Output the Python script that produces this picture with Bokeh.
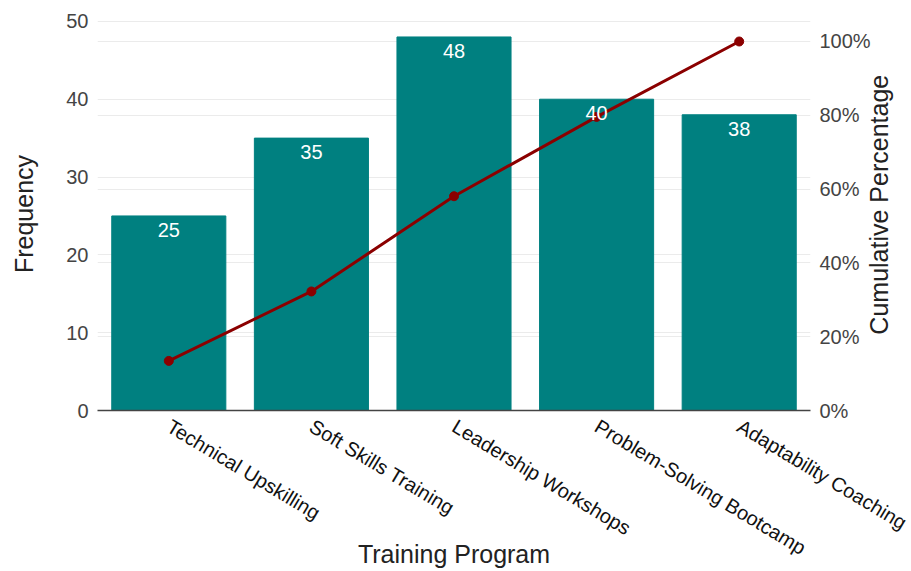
import math
from bokeh.plotting import figure
from bokeh.layouts import row
from bokeh.models import (ColumnDataSource, LinearAxis, Range1d, FixedTicker,
                          PrintfTickFormatter, Grid, LabelSet, Label, FactorRange)
from bokeh.core.properties import value
from bokeh.embed import file_html
from bokeh.resources import INLINE

programs = ["Technical Upskilling", "Soft Skills Training", "Leadership Workshops",
            "Problem-Solving Bootcamp", "Adaptability Coaching"]
frequency = [25, 35, 48, 40, 38]

total = sum(frequency)
cumulative = []
run = 0
for f in frequency:
    run += f
    cumulative.append(run / total * 100)

src = ColumnDataSource(dict(program=programs, freq=frequency, cum=cumulative,
                            lab=[str(v) for v in frequency]))

FONT = "Liberation Sans"
TXT = "#444444"
TTL = "#222222"

p = figure(width=911, height=571, x_range=FactorRange(*programs, range_padding=0),
           y_range=Range1d(0, 50.5), output_backend="svg", toolbar_location=None,
           min_border_left=97, min_border_right=101, min_border_top=17,
           min_border_bottom=160)
p.outline_line_color = None
p.background_fill_color = "white"

p.extra_y_ranges = {"pct": Range1d(0, 106.5)}

p.vbar(x="program", top="freq", width=0.8, source=src, color="#008080")
p.line(x="program", y="cum", source=src, y_range_name="pct",
       line_color="#8B0000", line_width=3)
p.scatter(x="program", y="cum", source=src, y_range_name="pct",
          size=9, fill_color="#8B0000", line_color="#8B0000")

labels = LabelSet(x="program", y="freq", text="lab", source=src,
                  text_align="center", text_baseline="top", y_offset=-7,
                  text_color="white", text_font=value(FONT), text_font_size="20px")
p.add_layout(labels)

# left axis
ya = p.yaxis[0]
ya.ticker = FixedTicker(ticks=[0, 10, 20, 30, 40, 50])
ya.axis_label = "Frequency"
ya.axis_line_color = None
ya.major_tick_line_color = None
ya.minor_tick_line_color = None
ya.major_label_standoff = 3
ya.major_label_text_font = FONT
ya.major_label_text_font_size = "20px"
ya.major_label_text_color = TXT
ya.axis_label_text_font = FONT
ya.axis_label_text_font_size = "25px"
ya.axis_label_text_font_style = "normal"
ya.axis_label_text_color = TTL
ya.axis_label_standoff = 25

p.ygrid.ticker = FixedTicker(ticks=[10, 20, 30, 40, 50])
p.ygrid.grid_line_color = "#ebebeb"
p.xgrid.grid_line_color = None

# right axis
ra = LinearAxis(y_range_name="pct", ticker=FixedTicker(ticks=[0, 20, 40, 60, 80, 100]),
                formatter=PrintfTickFormatter(format="%d%%"))
ra.axis_line_color = None
ra.major_tick_line_color = None
ra.minor_tick_line_color = None
ra.major_label_standoff = 3
ra.major_label_text_font = FONT
ra.major_label_text_font_size = "20px"
ra.major_label_text_color = TXT
p.add_layout(ra, "right")

g2 = Grid(dimension=1, ticker=FixedTicker(ticks=[20, 40, 60, 80, 100]),
          y_range_name="pct", grid_line_color="#ebebeb")
p.add_layout(g2)

# x axis
xa = p.xaxis[0]
xa.axis_label = "Training Program"
xa.axis_line_color = "#444444"
xa.axis_line_width = 1.5
xa.major_tick_line_color = None
xa.major_label_orientation = -math.pi / 5.8
xa.major_label_text_font = FONT
xa.major_label_text_font_size = "20px"
xa.major_label_text_color = "#111111"
xa.major_label_standoff = 8
xa.axis_label_text_font = FONT
xa.axis_label_text_font_size = "25px"
xa.axis_label_text_font_style = "normal"
xa.axis_label_text_color = TTL
xa.axis_label_standoff = -31

# transparent strip overlapping the right edge, holding the right-axis title
p2 = figure(width=49, height=571, x_range=Range1d(0, 49), y_range=Range1d(0, 571),
            output_backend="svg", toolbar_location=None, min_border=0,
            margin=(0, 0, 0, -49))
p2.axis.visible = False
p2.grid.visible = False
p2.outline_line_color = None
p2.background_fill_alpha = 0
p2.border_fill_alpha = 0
rt = Label(x=16, y=299, text="Cumulative Percentage", angle=math.pi / 2,
           text_align="center", text_baseline="middle", text_font=FONT,
           text_font_size="25px", text_color=TTL)
p2.add_layout(rt)

layout = row(p, p2, spacing=0)
open("out.html", "w").write(file_html(layout, INLINE))
